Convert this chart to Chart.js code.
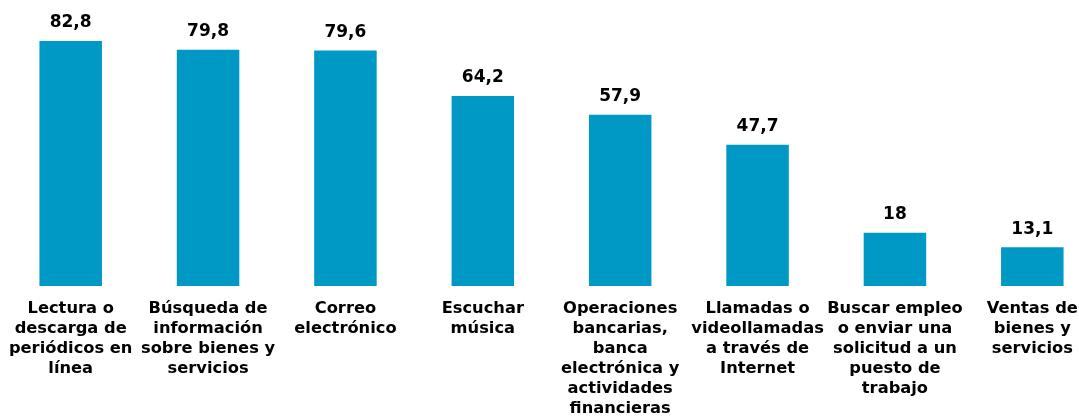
<!DOCTYPE html>
<html><head><meta charset="utf-8">
<script src="https://cdn.jsdelivr.net/npm/chart.js@4/dist/chart.umd.min.js"></script>
<style>
html,body{margin:0;padding:0;background:#fff;overflow:hidden;width:1079px;height:417px;}
#wrap{position:absolute;left:2px;top:0;width:1099px;height:417px;}
</style></head><body>
<div id="wrap"><canvas id="c" width="1099" height="417"></canvas></div>
<script>
const categories = [
  ["Lectura o","descarga de","periódicos en","línea"],
  ["Búsqueda de","información","sobre bienes y","servicios"],
  ["Correo","electrónico"],
  ["Escuchar","música"],
  ["Operaciones","bancarias,","banca","electrónica y","actividades","financieras"],
  ["Llamadas o","videollamadas","a través de","Internet"],
  ["Buscar empleo","o enviar una","solicitud a un","puesto de","trabajo"],
  ["Ventas de","bienes y","servicios"]
];
const values = [82.8, 79.8, 79.6, 64.2, 57.9, 47.7, 18, 13.1];
const valueLabels = ["82,8","79,8","79,6","64,2","57,9","47,7","18","13,1"];

const FONT = "DejaVu Sans";

const labelPlugin = {
  id: 'vals',
  afterDatasetsDraw(chart) {
    const ctx = chart.ctx;
    const meta = chart.getDatasetMeta(0);
    ctx.save();
    ctx.font = "bold 17px " + FONT;
    ctx.fillStyle = "#000";
    ctx.textAlign = "center";
    ctx.textBaseline = "middle";
    meta.data.forEach((bar, i) => {
      ctx.fillText(valueLabels[i], bar.x, bar.y - 18);
    });
    ctx.restore();
  }
};

new Chart(document.getElementById('c'), {
  type: 'bar',
  data: {
    labels: categories,
    datasets: [{
      data: values,
      backgroundColor: '#0099c6',
      borderWidth: 0,
      barPercentage: 0.455,
      categoryPercentage: 1
    }]
  },
  options: {
    responsive: false,
    animation: false,
    devicePixelRatio: 1,
    layout: { padding: 0 },
    plugins: { legend: { display: false }, tooltip: { enabled: false } },
    scales: {
      x: {
        offset: true,
        grid: { display: false, drawTicks: false },
        border: { display: false },
        ticks: {
          autoSkip: false, maxRotation: 0, minRotation: 0,
          color: '#000', padding: 13,
          font: { family: FONT, size: 16.3, weight: 'bold', lineHeight: 1.22 }
        },
        afterFit(scale) { scale.height = 131; scale.paddingLeft = 0; scale.paddingRight = 0; }
      },
      y: {
        display: false,
        min: 0, max: 96.65
      }
    }
  },
  plugins: [labelPlugin]
});
</script>
</body></html>
